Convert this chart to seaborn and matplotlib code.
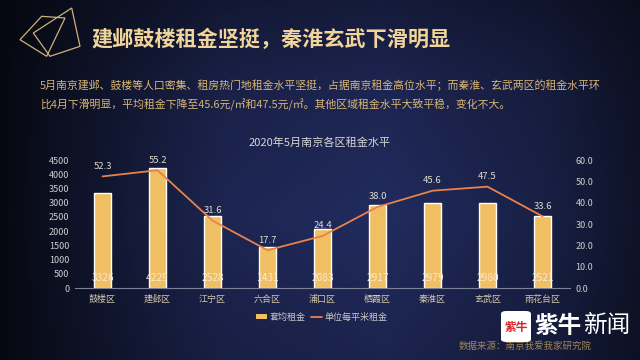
import numpy as np
import pandas as pd
import matplotlib
matplotlib.use("Agg")
import matplotlib.pyplot as plt
from matplotlib.patches import Polygon, FancyBboxPatch, Patch
from matplotlib.lines import Line2D
import seaborn as sns

# ---------------- data ----------------
districts = ["鼓楼区", "建邺区", "江宁区", "六合区", "浦口区", "栖霞区", "秦淮区", "玄武区", "雨花台区"]
avg_rent = [3326, 4229, 2528, 1431, 2083, 2917, 2979, 2980, 2521]
sqm_rent = [52.3, 55.2, 31.6, 17.7, 24.4, 38.0, 45.6, 47.5, 33.6]
left_ticks = [0, 500, 1000, 1500, 2000, 2500, 3000, 3500, 4000, 4500]
right_ticks = [0.0, 10.0, 20.0, 30.0, 40.0, 50.0, 60.0]

headline = "建邺鼓楼租金坚挺，秦淮玄武下滑明显"
para1 = "5月南京建邺、鼓楼等人口密集、租房热门地租金水平坚挺，占据南京租金高位水平；而秦淮、玄武两区的租金水平环"
para2 = "比4月下滑明显，平均租金下降至45.6元/㎡和47.5元/㎡。其他区域租金水平大致平稳，变化不大。"
chart_title = "2020年5月南京各区租金水平"
legend_bar = "套均租金"
legend_line = "单位每平米租金"
source = "数据来源：南京我爱我家研究院"

sns.set_theme(style="white")
plt.rcParams['font.family'] = ['Noto Sans CJK SC', 'DejaVu Sans']
plt.rcParams['axes.unicode_minus'] = False

W, H = 640, 360
fig = plt.figure(figsize=(6.4, 3.6), dpi=100)

# ---------------- background ----------------
bg = fig.add_axes([0, 0, 1, 1])
bg.set_axis_off()
xs = np.linspace(0, 1, 320)
ys = np.linspace(0, 1, 180)
X, Y = np.meshgrid(xs, ys)
hprof = np.interp(X, [0, 0.12, 0.35, 0.6, 0.85, 1.0], [0.05, 0.35, 0.85, 1.0, 0.7, 0.35])
vprof = np.interp(Y, [0, 0.25, 0.6, 1.0], [0.55, 0.85, 1.0, 0.8])
t = hprof * vprof
c_dark = np.array([0.02, 0.025, 0.05])
c_navy = np.array([0.13, 0.17, 0.37])
img = c_dark[None, None, :] + (c_navy - c_dark)[None, None, :] * t[..., None]
bg.imshow(img, extent=[0, 1, 0, 1], aspect='auto', origin='upper', zorder=0)
bg.set_xlim(0, 1)
bg.set_ylim(0, 1)

def P(x, y):
    return (x / W, 1 - y / H)

# decorative polygons
gold_line = "#cfb27a"
polyA = [P(20, 39.7), P(41.7, 16.3), P(65, 18), P(46.7, 56.3)]
polyB = [P(33.3, 33), P(71.7, 8), P(80, 46.3), P(50, 56.3)]
for pts in (polyA, polyB):
    bg.add_patch(Polygon(pts, closed=True, fill=False, edgecolor=gold_line, lw=0.9, zorder=2))

# headline and paragraph
bg.text(*P(91, 39), headline, fontsize=15.2, fontweight='bold', color="#f1d49a",
        va='center', ha='left', zorder=3)
bg.text(*P(40, 85), para1, fontsize=7.85, color="#d8b676", va='center', ha='left', zorder=3)
bg.text(*P(40, 105), para2, fontsize=7.85, color="#d8b676", va='center', ha='left', zorder=3)

# chart title
bg.text(*P(320, 143), chart_title, fontsize=8, color="#d6d6d6", va='center', ha='center', zorder=3)

# source + logo
bg.text(*P(525, 346), source, fontsize=6.8, color="#9c8558", va='center', ha='center', zorder=3)
x0, y0 = P(501, 342)
x1, y1 = P(531, 311)
bg.add_patch(FancyBboxPatch((x0, y0), x1 - x0, y1 - y0,
                            boxstyle="round,pad=0,rounding_size=0.008",
                            facecolor="white", edgecolor="none", zorder=4))
bg.text(*P(516, 327), "紫牛", fontsize=8.5, fontweight='bold', color="#d9242b",
        va='center', ha='center', zorder=5)
bg.text(*P(534, 326), "紫牛", fontsize=17, fontweight='bold', color="white",
        va='center', ha='left', zorder=5)
bg.text(*P(583, 326), "新闻", fontsize=17, color="white", va='center', ha='left', zorder=5)

# ---------------- chart ----------------
ax = fig.add_axes([75 / W, 1 - 288 / H, (570 - 75) / W, (288 - 160) / H])
ax.patch.set_alpha(0)
df = pd.DataFrame({"district": districts, "avg": avg_rent, "sqm": sqm_rent})

bar_color = "#f0bf64"
line_color = "#e8824a"
sns.barplot(data=df, x="district", y="avg", order=districts, color=bar_color,
            width=0.32, saturation=1, ax=ax, zorder=2)
ax.set_ylim(0, 4500)
ax.set_xlim(-0.5, len(districts) - 0.5)
ax.set_yticks(left_ticks)
ax.set_yticklabels([str(v) for v in left_ticks])
ax.set_xlabel("")
ax.set_ylabel("")
for s in ["top", "right", "left"]:
    ax.spines[s].set_visible(False)
ax.spines["bottom"].set_color("#7d8299")
ax.spines["bottom"].set_linewidth(0.8)
ax.tick_params(axis='y', colors="#cfcfcf", labelsize=6.5, length=0, pad=4)
ax.tick_params(axis='x', colors="#d4c7ad", labelsize=6.5, length=0, pad=5)
ax.grid(False)

for i, v in enumerate(avg_rent):
    ax.annotate(str(v), (i, 0), xytext=(0, 7), textcoords='offset points',
                ha='center', va='center', fontsize=7.3, color="#f7ead0", zorder=4)

ax2 = ax.twinx()
ax2.set_position(ax.get_position())
sns.lineplot(x=np.arange(len(districts)), y=sqm_rent, color=line_color, lw=1.3, ax=ax2, zorder=3)
ax2.set_ylim(0, 60)
ax2.set_yticks(right_ticks)
ax2.set_yticklabels([f"{v:.1f}" for v in right_ticks])
ax2.tick_params(axis='y', colors="#cfcfcf", labelsize=6.5, length=0, pad=4)
for s in ["top", "right", "left", "bottom"]:
    ax2.spines[s].set_visible(False)
ax2.grid(False)
ax2.set_xlim(-0.5, len(districts) - 0.5)
for i, v in enumerate(sqm_rent):
    ax2.annotate(f"{v:.1f}", (i, v), xytext=(0, 4), textcoords='offset points',
                 ha='center', va='bottom', fontsize=6.8, color="#e2dccd", zorder=4)

# legend
handles = [Patch(facecolor=bar_color, edgecolor='none'),
           Line2D([0], [0], color=line_color, lw=1.3)]
fig.legend(handles, [legend_bar, legend_line], loc='center', bbox_to_anchor=P(322, 317),
           ncol=2, frameon=False, fontsize=6.5, labelcolor="#c9c9c9",
           handlelength=1.2, handleheight=0.6, columnspacing=0.6, handletextpad=0.3)

fig.savefig("out.png", dpi=100)
